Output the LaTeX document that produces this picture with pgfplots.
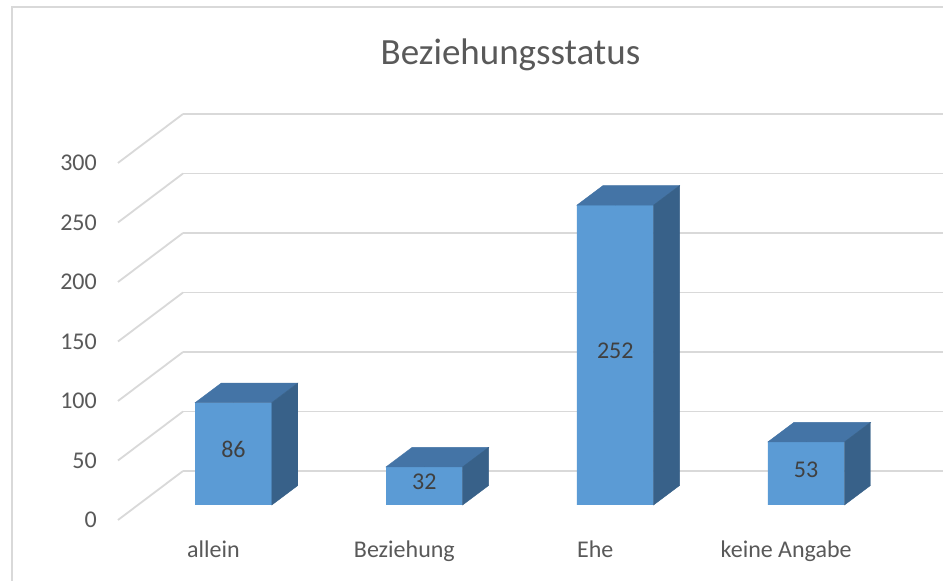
\documentclass[border=0pt]{standalone}
\usepackage{fontspec}
\setmainfont{Carlito}
\usepackage{pgfplots}
\pgfplotsset{compat=1.18}
\usepackage{pgfplotstable}

\definecolor{frontc}{HTML}{5B9BD5}
\definecolor{topc}{HTML}{4474A6}
\definecolor{sidec}{HTML}{386189}
\definecolor{gridc}{HTML}{D9D9D9}
\definecolor{txt}{HTML}{595959}
\definecolor{lab}{HTML}{404040}

\pgfplotstableread{
i n
0 86
1 32
2 252
3 53
}\status

% all three layers share one scale: 190.9pt per category, 1.19pt per unit
\pgfplotsset{
  /pgf/number format/assume math mode=true,
  wall/.style={scale only axis, width=763.6pt, height=357pt,
    xmin=-0.5, xmax=3.5, ymin=0, ymax=300, clip=false,
    axis line style={draw=none}, tick style={draw=none}},
}

\begin{document}
\begin{tikzpicture}[x=1pt,y=1pt]
\clip (0,0) rectangle (943,581);
\path[use as bounding box] (0,0) rectangle (943,581);
\fill[white] (0,0) rectangle (943,581);
\draw[gridc, line width=2pt] (12,-5) -- (12,573.5) -- (1010,573.5);

% back wall
\begin{axis}[wall, at={(183pt,110pt)}, anchor=south west,
  ytick={0,50,...,300}, yticklabels={}, xtick=\empty,
  ymajorgrids, grid style={gridc, line width=1.8pt}]
\end{axis}

% front plane: tick labels and side-wall lines
\begin{axis}[wall, at={(118pt,61pt)}, anchor=south west,
  ytick={0,50,...,300},
  xtick={0,1,2,3}, xticklabels={allein,Beziehung,Ehe,keine Angabe},
  ticklabel style={font=\fontsize{24}{28}\selectfont, text=txt, inner sep=0pt},
  yticklabel style={anchor=east, xshift=-21pt},
  xticklabel style={anchor=base, yshift=-38pt}]
\pgfplotsinvokeforeach{0,50,100,150,200,250,300}{
  \draw[gridc, line width=1.8pt] (axis cs:-0.5,#1) -- ++(65pt,49pt);
}
\end{axis}

% bars, set back into the depth
\begin{axis}[wall, at={(138pt,76pt)}, anchor=south west, hide axis]
\addplot[ybar, bar width=76.6pt, fill=frontc, draw=none] table[x=i,y=n]{\status};
\addplot[only marks, scatter, mark=*, mark size=0pt,
  visualization depends on={rawy \as \val},
  scatter/@pre marker code/.code={
    \pgfmathsetmacro\h{\val*1.19}
    \fill[topc] (-38.3pt,0pt) -- (38.3pt,0pt) -- (64.3pt,19.5pt) -- (-12.3pt,19.5pt) -- cycle;
    \fill[sidec] (38.3pt,0pt) -- (64.3pt,19.5pt) -- ({64.3pt},{19.5pt-\h pt}) -- ({38.3pt},{-\h pt}) -- cycle;
  },
  scatter/@post marker code/.code={}
] table[x=i,y=n]{\status};
\addplot[draw=none, nodes near coords, point meta=explicit,
  nodes near coords style={anchor=center, yshift=4pt,
    font=\fontsize{24}{28}\selectfont, text=lab}]
  table[x=i, y expr=\thisrow{n}/2, meta=n]{\status};
\end{axis}

\node[font=\fontsize{37}{44}\selectfont, text=txt, anchor=base] at (510.5,516) {Beziehungsstatus};
\end{tikzpicture}
\end{document}
